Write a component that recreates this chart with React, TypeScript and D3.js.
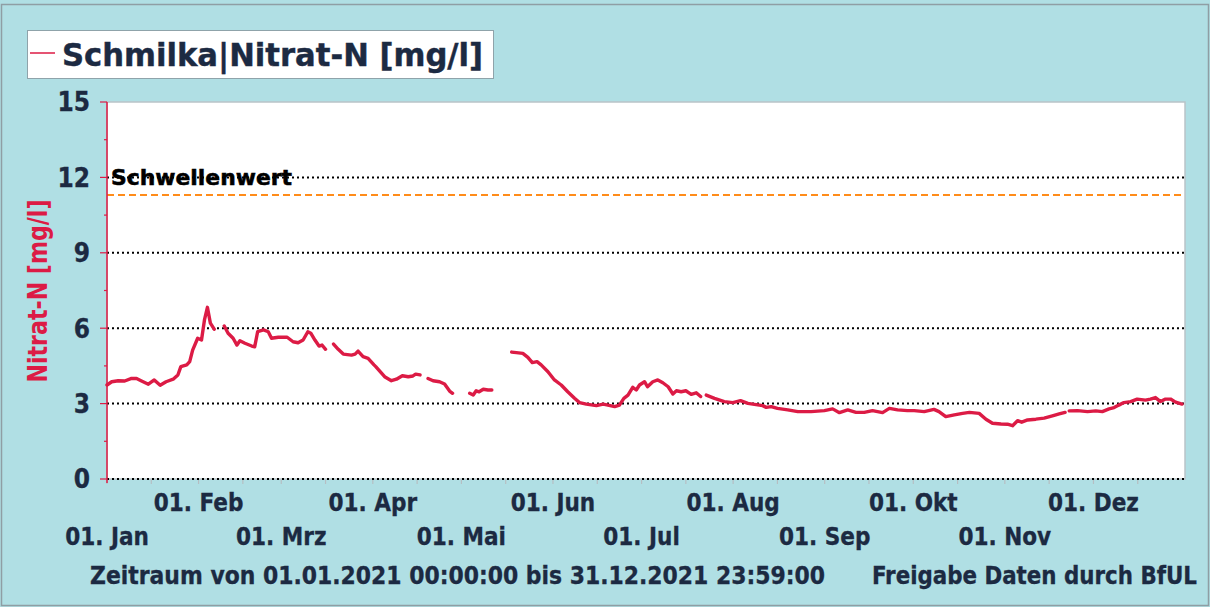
import React from "react";
import * as d3 from "d3";

// ---- data ----
// day offsets from 01.01.2021 (null = measurement gap)
const sampleDays: number[] = [
  0, 1.6, 3.8, 6, 8.3, 10, 11.7, 14, 16, 18, 20, 22.4, 24, 25, 27, 28, 29, 30.7, 32, 33, 34, 35, 36.3,
  38,
  39.7, 41, 42.7, 44, 45, 46.7, 49, 50, 51, 53, 54.6, 55.7, 58, 61, 63, 64.7, 66.4, 68, 69, 70.4, 71.8, 72.8, 74,
  75.5,
  76.7, 78.3, 80, 82.8, 84, 85, 86.7, 88.4, 90.4, 91, 94, 96.3, 98, 100, 102, 103.6, 104.5, 106,
  107.5,
  108.7, 110.4, 112.6, 114.3, 116, 117,
  120,
  122.8, 124, 125, 126, 127.4, 129, 130.3,
  134,
  137, 138.6, 140.8, 142.5, 144, 145.6, 147, 149.3, 151.5, 153.8, 156, 158.3, 160, 162.3, 165.7, 168, 169.6, 171.9,
  173.5, 175, 176.4, 178, 179.2, 180.3, 182, 183, 184.8, 186.5, 188.2, 190, 191.6, 192.8, 194.4, 196, 197.8, 199.5, 201,
  202,
  202.9, 205.7, 209, 211.9, 214.5, 217, 219.2, 222, 223.2, 224.9, 227, 230.5, 233.9, 238.4, 242.9, 245.7, 248, 250.8,
  253.6, 256.4, 259.2, 262.6, 264.9, 267.7, 271, 273.3, 276.7, 280, 281.7, 284, 286.9, 289.7, 292, 295.3, 297.6,
  299.8, 302.7, 304.9, 306.6, 308.3, 309.7, 311.7, 314.5, 317.3, 320.1, 322.4, 324.4,
  325.1,
  325.8, 328.6, 332, 334.8, 337, 339.3, 341, 342.6, 344.3, 346.6, 348.8, 351.6, 353.3, 355, 356.7, 358.4, 360.1,
  361.8, 364,
];
const nitrateValues: (number | null)[] = [
  3.74, 3.87, 3.91, 3.9, 4.0, 4.0, 3.9, 3.77, 3.94, 3.73, 3.87, 3.97, 4.14, 4.47, 4.54, 4.67, 5.13, 5.6, 5.53, 6.33, 6.83, 6.2, 5.96,
  null,
  6.09, 5.8, 5.6, 5.33, 5.5, 5.4, 5.29, 5.26, 5.86, 5.93, 5.86, 5.6, 5.64, 5.64, 5.46, 5.42, 5.53, 5.86, 5.8, 5.53, 5.29, 5.33, 5.16,
  null,
  5.37, 5.16, 4.97, 4.93, 4.97, 5.09, 4.87, 4.8, 4.54, 4.47, 4.07, 3.91, 3.97, 4.11, 4.07, 4.1, 4.17, 4.14,
  null,
  4.0, 3.91, 3.87, 3.78, 3.5, 3.41,
  null,
  3.41, 3.34, 3.51, 3.47, 3.57, 3.54, 3.54,
  null,
  5.05, 5.03, 5.0, 4.84, 4.63, 4.67, 4.54, 4.27, 3.94, 3.74, 3.47, 3.21, 3.04, 2.98, 2.92, 2.98, 2.94, 2.88,
  2.94, 3.21, 3.34, 3.65, 3.54, 3.74, 3.87, 3.67, 3.87, 3.94, 3.83, 3.67, 3.38, 3.51, 3.47, 3.51, 3.37, 3.43, 3.28,
  null,
  3.34, 3.21, 3.08, 3.04, 3.12, 3.01, 2.97, 2.92, 2.85, 2.88, 2.81, 2.75, 2.68, 2.68, 2.72, 2.79, 2.64, 2.75,
  2.65, 2.65, 2.72, 2.64, 2.81, 2.75, 2.72, 2.72, 2.68, 2.77, 2.68, 2.48, 2.55, 2.61, 2.65, 2.61, 2.38,
  2.22, 2.19, 2.18, 2.12, 2.32, 2.26, 2.35, 2.38, 2.42, 2.51, 2.59, 2.65,
  null,
  2.71, 2.72, 2.68, 2.71, 2.68, 2.79, 2.84, 2.94, 3.04, 3.08, 3.18, 3.14, 3.18, 3.24, 3.08, 3.18, 3.18,
  3.06, 2.98,
];
const thresholdValue = 11.3;
const thresholdLabel = "Schwellenwert";
const yTicks = [0, 3, 6, 9, 12, 15];
const yMinorTicks = [1.5, 4.5, 7.5, 10.5, 13.5];
const gridValues = [0, 3, 6, 9, 12];
const monthLabels = [
  "01. Jan", "01. Feb", "01. Mrz", "01. Apr", "01. Mai", "01. Jun",
  "01. Jul", "01. Aug", "01. Sep", "01. Okt", "01. Nov", "01. Dez",
];
const legendText = "Schmilka|Nitrat-N [mg/l]";
const yTitle = "Nitrat-N [mg/l]";
const footerLeft = "Zeitraum von 01.01.2021 00:00:00 bis 31.12.2021 23:59:00";
const footerRight = "Freigabe Daten durch BfUL";

// ---- layout ----
const W = 1210;
const H = 607;
const plot = { left: 107, right: 1185, top: 102, bottom: 479 };
const BG = "#b0dfe4";
const TEXT = "#1c2a42";
const RED = "#dc1b45";
const FONT = "'DejaVu Sans Condensed', 'DejaVu Sans', sans-serif";

const start = new Date(2021, 0, 1, 0, 0, 0);
const end = new Date(2021, 11, 31, 23, 59, 0);
const dayToDate = (d: number) => new Date(start.getTime() + d * 86400000);

export default function App() {
  const x = d3.scaleTime().domain([start, end]).range([plot.left, plot.right]);
  const y = d3.scaleLinear().domain([0, 15]).range([plot.bottom, plot.top]);

  const points = sampleDays.map((d, i) => ({ date: dayToDate(d), v: nitrateValues[i] }));
  const line = d3
    .line<{ date: Date; v: number | null }>()
    .defined((p) => p.v !== null)
    .x((p) => x(p.date))
    .y((p) => y(p.v as number));

  const months = d3.timeMonth.range(start, end);
  const minorX: Date[] = [];
  months.forEach((m) => {
    minorX.push(m);
    minorX.push(new Date(m.getFullYear(), m.getMonth(), 16));
  });

  return (
    <svg
      width={W}
      height={H}
      style={{ position: "absolute", left: 0, top: 0, display: "block" }}
      fontFamily={FONT}
    >
      <rect x={0} y={0} width={W} height={H} fill={BG} />
      <rect x={1.5} y={4.5} width={W - 3} height={H - 6} fill="none" stroke="#8f9ea4" strokeWidth={1.5} />

      {/* legend */}
      <rect x={27.5} y={30.5} width={466} height={48} fill="#fff" stroke="#8fa3aa" strokeWidth={1} />
      <line x1={30} x2={55} y1={53} y2={53} stroke={RED} strokeWidth={1.5} />
      <text
        x={62}
        y={66}
        fontSize={32}
        fontWeight="bold"
        fill={TEXT}
        stroke={TEXT}
        strokeWidth={0.4}
        textLength={421}
        lengthAdjust="spacingAndGlyphs"
      >
        {legendText}
      </text>

      {/* plot area */}
      <rect
        x={plot.left}
        y={plot.top}
        width={plot.right - plot.left}
        height={plot.bottom - plot.top}
        fill="#fff"
        stroke="#b9c4c8"
        strokeWidth={1.5}
      />

      {/* grid */}
      {gridValues.map((v) => (
        <line
          key={"g" + v}
          x1={plot.left}
          x2={plot.right}
          y1={y(v)}
          y2={y(v)}
          stroke="#000"
          strokeWidth={2}
          strokeDasharray="2 3"
        />
      ))}

      {/* x minor ticks */}
      {minorX.map((d, i) => (
        <line
          key={"xt" + i}
          x1={x(d)}
          x2={x(d)}
          y1={plot.bottom + 1}
          y2={plot.bottom + 5}
          stroke="#b5bfc3"
          strokeWidth={1.2}
        />
      ))}

      {/* threshold */}
      <line
        x1={plot.left}
        x2={plot.right}
        y1={y(thresholdValue)}
        y2={y(thresholdValue)}
        stroke="#ff8c1a"
        strokeWidth={2}
        strokeDasharray="7 4"
      />
      <text
        x={111}
        y={185}
        fontSize={22}
        fontWeight="bold"
        fill="#000"
        stroke="#000"
        strokeWidth={0.5}
        textLength={181}
        lengthAdjust="spacingAndGlyphs"
      >
        {thresholdLabel}
      </text>

      {/* series */}
      <path
        d={line(points) || ""}
        fill="none"
        stroke={RED}
        strokeWidth={3.4}
        strokeLinejoin="round"
        strokeLinecap="round"
      />

      {/* y axis */}
      <line x1={plot.left} x2={plot.left} y1={plot.top} y2={plot.bottom + 4} stroke={RED} strokeWidth={1.5} />
      {yTicks.map((v) => (
        <g key={"yt" + v}>
          <line x1={plot.left - 7} x2={plot.left} y1={y(v)} y2={y(v)} stroke={RED} strokeWidth={1.2} />
          <text
            x={90}
            y={y(v)}
            dy="0.36em"
            textAnchor="end"
            fontSize={26}
            fontWeight="bold"
            fill={TEXT}
            stroke={TEXT}
            strokeWidth={0.3}
          >
            {v}
          </text>
        </g>
      ))}
      {yMinorTicks.map((v) => (
        <line key={"ym" + v} x1={plot.left - 3} x2={plot.left} y1={y(v)} y2={y(v)} stroke={RED} strokeWidth={1.2} />
      ))}
      <text
        transform={`translate(47, ${291}) rotate(-90)`}
        textAnchor="middle"
        fontSize={27}
        fontWeight="bold"
        fill={RED}
        textLength={183}
        lengthAdjust="spacingAndGlyphs"
      >
        {yTitle}
      </text>

      {/* x labels */}
      {months.map((m, i) => (
        <text
          key={"xl" + i}
          x={x(m)}
          y={i % 2 === 0 ? 545 : 511}
          textAnchor="middle"
          fontSize={24}
          fontWeight="bold"
          fill={TEXT}
          stroke={TEXT}
          strokeWidth={0.3}
        >
          {monthLabels[m.getMonth()]}
        </text>
      ))}

      {/* footer */}
      <text
        x={90}
        y={584}
        fontSize={24}
        fontWeight="bold"
        fill={TEXT}
        stroke={TEXT}
        strokeWidth={0.3}
        textLength={735}
        lengthAdjust="spacingAndGlyphs"
      >
        {footerLeft}
      </text>
      <text
        x={872}
        y={584}
        fontSize={24}
        fontWeight="bold"
        fill={TEXT}
        stroke={TEXT}
        strokeWidth={0.3}
        textLength={325}
        lengthAdjust="spacingAndGlyphs"
      >
        {footerRight}
      </text>
    </svg>
  );
}
